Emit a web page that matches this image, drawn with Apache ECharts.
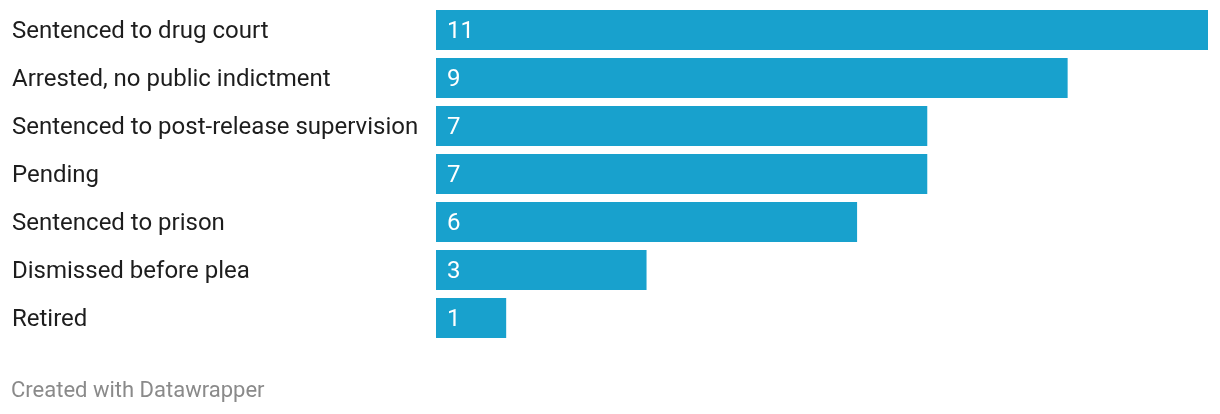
<!DOCTYPE html>
<html>
<head>
<meta charset="utf-8">
<script src="https://cdn.jsdelivr.net/npm/echarts@6/dist/echarts.min.js"></script>
<style>
html,body{margin:0;padding:0;background:#fff;}
#c{width:1220px;height:414px;}
</style>
</head>
<body>
<div id="c"></div>
<script>
const categories = [
  "Sentenced to drug court",
  "Arrested, no public indictment",
  "Sentenced to post-release supervision",
  "Pending",
  "Sentenced to prison",
  "Dismissed before plea",
  "Retired"
];
const values = [11, 9, 7, 7, 6, 3, 1];
const footer = "Created with Datawrapper";

const chart = echarts.init(document.getElementById('c'), null, {renderer: 'canvas'});
chart.setOption({
  animation: false,
  backgroundColor: '#fff',
  grid: {left: 436, right: 12, top: 6, height: 336, containLabel: false},
  xAxis: {type: 'value', min: 0, max: 11, show: false},
  yAxis: {
    type: 'category', data: categories, inverse: true,
    axisLine: {show: false}, axisTick: {show: false}, splitLine: {show: false},
    axisLabel: {
      align: 'left', margin: 424,
      formatter: function (v) { return '{a|' + v + '}'; },
      rich: {a: {color: '#1d1d1d', fontFamily: 'Roboto', fontSize: 24, padding: [4, 0, 0, 0]}}
    }
  },
  series: [{
    type: 'bar', data: values, barCategoryGap: '16.67%',
    itemStyle: {color: '#18a1cd'},
    label: {
      show: true, position: 'insideLeft', distance: 11, offset: [0, 2],
      color: '#fff', fontFamily: 'Roboto', fontSize: 24
    }
  }],
  graphic: [{
    type: 'text', x: 11, y: 391,
    style: {text: footer, fill: '#8a8a8a', font: '22px Roboto', textVerticalAlign: 'middle'}
  }]
});
</script>
</body>
</html>
